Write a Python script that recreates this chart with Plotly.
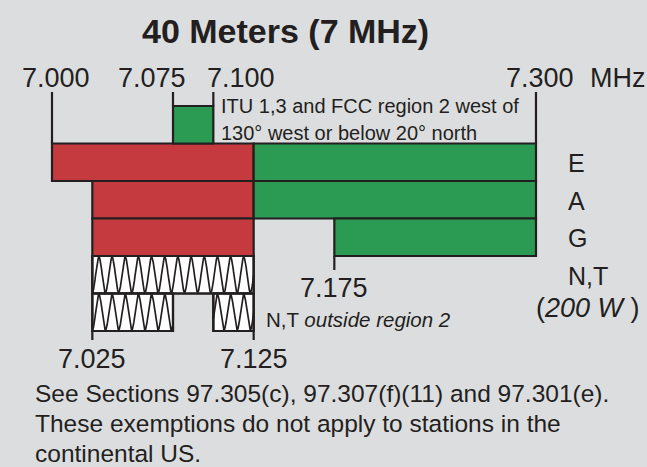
import numpy as np
import plotly.graph_objects as go

# ---------------- data ----------------
title_text = "40 Meters (7 MHz)"
row_names = ["ITU 1,3 / FCC region 2 west of 130°", "E", "A", "G", "N,T", "N,T outside region 2"]
seg_row = [0, 1, 1, 2, 2, 3, 3, 4, 5, 5]
seg_start = [7.075, 7.000, 7.125, 7.025, 7.125, 7.025, 7.175, 7.025, 7.025, 7.100]
seg_end = [7.100, 7.125, 7.300, 7.125, 7.300, 7.125, 7.300, 7.125, 7.075, 7.125]
seg_mode = ["phone", "cw", "phone", "cw", "phone", "cw", "phone", "nt", "nt", "nt"]
top_ticks = [7.000, 7.075, 7.100, 7.300]
top_labels = ["7.000", "7.075", "7.100", "7.300"]
mid_ticks = [7.175]
mid_labels = ["7.175"]
bottom_ticks = [7.025, 7.125]
bottom_labels = ["7.025", "7.125"]
class_labels = ["E", "A", "G", "N,T"]
itu_note = ["ITU 1,3 and FCC region 2 west of", "130° west or below 20° north"]
footnote = ["See Sections 97.305(c), 97.307(f)(11) and 97.301(e).",
            "These exemptions do not apply to stations in the",
            "continental US."]

# ---------------- layout geometry ----------------
W, H = 647, 467
PX0 = 52.0          # pixel of 7.000 MHz
PPM = 1613.3        # pixels per MHz
BG = "#dcdddf"
INK = "#231f20"
COL = {"phone": "#2b9a52", "cw": "#c43a3e", "nt": "#ffffff"}
ROW_TOP = 106.0
ROW_H = 37.5
FONT = "Liberation Sans, Arial, sans-serif"


def f2px(f):
    return PX0 + (f - 7.0) * PPM


def px2f(px):
    return 7.0 + (px - PX0) / PPM


def row_c(i):
    return ROW_TOP + ROW_H * (i + 0.5)


fig = go.Figure()

# bars
for mode in ["cw", "phone", "nt"]:
    idx = [k for k, m in enumerate(seg_mode) if m == mode]
    fig.add_trace(go.Bar(
        orientation="h",
        y=[row_c(seg_row[k]) for k in idx],
        base=[seg_start[k] for k in idx],
        x=[seg_end[k] - seg_start[k] for k in idx],
        width=ROW_H,
        marker=dict(color=COL[mode], line=dict(color=INK, width=2.2)),
        hoverinfo="skip", showlegend=False,
    ))

# wave pattern for N,T segments
period = 0.1 / 12.25
wx, wy = [], []
for k, m in enumerate(seg_mode):
    if m != "nt":
        continue
    xs = np.linspace(seg_start[k], seg_end[k], 300)
    c = row_c(seg_row[k])
    amp = ROW_H / 2 - 1.2
    ys = c + amp * np.cos(2 * np.pi * (xs - 7.025) / period)
    wx += list(xs) + [None]
    wy += list(ys) + [None]
fig.add_trace(go.Scatter(x=wx, y=wy, mode="lines", line=dict(color=INK, width=1.7),
                         hoverinfo="skip", showlegend=False))

# redraw NT outlines on top of waves
for k, m in enumerate(seg_mode):
    if m != "nt":
        continue
    c = row_c(seg_row[k])
    x0, x1 = seg_start[k], seg_end[k]
    y0, y1 = c - ROW_H / 2, c + ROW_H / 2
    fig.add_trace(go.Scatter(x=[x0, x1, x1, x0, x0], y=[y0, y0, y1, y1, y0], mode="lines",
                             line=dict(color=INK, width=2.2), hoverinfo="skip", showlegend=False))

# tick lines
lx, ly = [], []
for t in top_ticks:
    bottom = row_c(1) - ROW_H / 2 if t in (7.000, 7.300) else ROW_TOP
    lx += [t, t, None]
    ly += [92, bottom, None]
for t in mid_ticks:
    lx += [t, t, None]
    ly += [row_c(3) + ROW_H / 2, 270, None]
for t in bottom_ticks:
    lx += [t, t, None]
    ly += [row_c(5) + ROW_H / 2, 340, None]
fig.add_trace(go.Scatter(x=lx, y=ly, mode="lines", line=dict(color=INK, width=2.2),
                         hoverinfo="skip", showlegend=False))

ann = []


def text(s, px, py, size, anchor="center", bold=False, font=FONT):
    ann.append(dict(text=("<b>%s</b>" % s) if bold else s, x=px2f(px), y=py, xref="x", yref="y",
                    xanchor=anchor, yanchor="middle", showarrow=False,
                    font=dict(family=font, size=size, color=INK)))


text(title_text, 285, 31, 34, bold=True)
# top labels
text(top_labels[0], 56, 78, 27)
text(top_labels[1], 188, 78, 27, anchor="right")
text(top_labels[2], 205, 78, 27, anchor="left")
text(top_labels[3], 540, 78, 27)
text("MHz", 588, 78, 27, anchor="left")
# ITU note
text(itu_note[0], 219, 106, 20, anchor="left")
text(itu_note[1], 219, 133, 20, anchor="left")
# class labels
for i, lab in enumerate(class_labels):
    text(lab, 566, row_c(i + 1) + 1, 25, anchor="left")
text("(<i>200 W </i>)", 588, 308, 27)
text(mid_labels[0], f2px(mid_ticks[0]), 288, 27)
text("N,T <i>outside region 2</i>", 264, 319, 20.5, anchor="left")
for t, lab in zip(bottom_ticks, bottom_labels):
    text(lab, f2px(t), 359, 27)
for i, line in enumerate(footnote):
    text(line, 33, 393 + 30 * i, 24.5, anchor="left")

fig.update_layout(
    width=W, height=H,
    margin=dict(l=0, r=0, t=0, b=0),
    paper_bgcolor=BG, plot_bgcolor=BG,
    barmode="overlay",
    xaxis=dict(range=[px2f(0), px2f(W)], visible=False, fixedrange=True),
    yaxis=dict(range=[H, 0], visible=False, fixedrange=True),
    annotations=ann,
)

fig.write_html("out.html",
               config=dict(displayModeBar=False, staticPlot=True),
               post_script="document.body.style.margin='0';"
                           "document.body.style.overflow='hidden';"
                           "document.body.style.background='%s';" % BG)
